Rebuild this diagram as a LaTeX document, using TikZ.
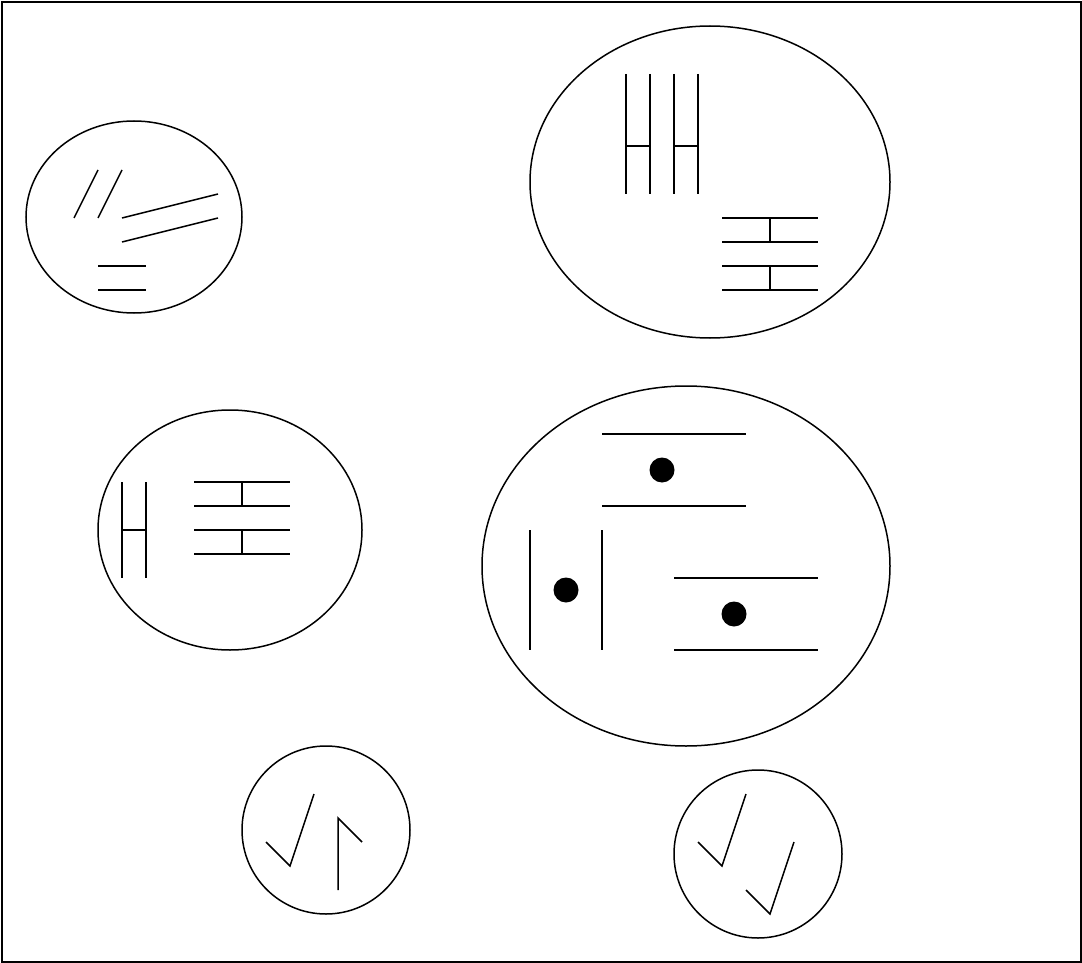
\documentclass[tikz,border=0pt]{standalone}
\usetikzlibrary{shapes.geometric}
\begin{document}
\begin{tikzpicture}[x=1pt,y=-1pt,line width=1.5pt,
  blob/.style={draw,ellipse,inner sep=0pt,line width=1.5pt},
  mark/.style={line width=1.5pt},
  dotfill/.style={fill=black}]
\useasboundingbox (0,0) rectangle (1082,963);
\draw (2,2) rectangle (1081,962);
% ellipse 1
\node[blob,minimum width=216pt,minimum height=192pt] (e1) at (134,217) {};
\draw (74,218)--(98,170) (98,218)--(122,170);
\draw (122,218)--(218,194) (122,242)--(218,218);
\draw (98,266)--(146,266) (98,290)--(146,290);
% ellipse 2
\node[blob,minimum width=360pt,minimum height=312pt] (e2) at (710,182) {};
\draw (626,74)--(626,194) (650,74)--(650,194) (626,146)--(650,146);
\draw (674,74)--(674,194) (698,74)--(698,194) (674,146)--(698,146);
\draw (722,218)--(818,218) (722,242)--(818,242) (770,218)--(770,242);
\draw (722,266)--(818,266) (722,290)--(818,290) (770,266)--(770,290);
% ellipse 3
\node[blob,minimum width=264pt,minimum height=240pt] (e3) at (230,530) {};
\draw (122,482)--(122,578) (146,482)--(146,578) (122,530)--(146,530);
\draw (194,482)--(290,482) (194,506)--(290,506) (242,482)--(242,506);
\draw (194,530)--(290,530) (194,554)--(290,554) (242,530)--(242,554);
% ellipse 4
\node[blob,minimum width=408pt,minimum height=360pt] (e4) at (686,566) {};
\draw (602,434)--(746,434) (602,506)--(746,506);
\fill (662,470) ellipse [x radius=12.5, y radius=12.5];
\draw (530,530)--(530,650) (602,530)--(602,650);
\fill (566,590) ellipse [x radius=12.5, y radius=12.5];
\draw (674,578)--(818,578) (674,650)--(818,650);
\fill (734,614) ellipse [x radius=12.5, y radius=12.5];
% circle 5
\node[blob,circle,minimum size=168pt] (c5) at (326,830) {};
\draw (266,842)--(290,866)--(314,794);
\draw (338,890)--(338,818)--(362,842);
% circle 6
\node[blob,circle,minimum size=168pt] (c6) at (758,854) {};
\draw (698,842)--(722,866)--(746,794);
\draw (746,890)--(770,914)--(794,842);
\end{tikzpicture}
\end{document}
